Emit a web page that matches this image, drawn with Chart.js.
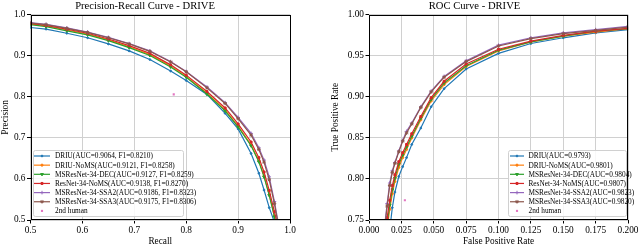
<!DOCTYPE html>
<html>
<head>
<meta charset="utf-8">
<script src="https://cdn.jsdelivr.net/npm/chart.js@4/dist/chart.umd.min.js"></script>
<style>
  html, body { margin: 0; padding: 0; background: #fff; }
  #wrap { position: relative; width: 640px; height: 247px; }
  canvas { position: absolute; top: 0; }
  #pr { left: 0; }
  #roc { left: 320px; }
</style>
</head>
<body>
<div id="wrap">
  <canvas id="pr" width="320" height="247"></canvas>
  <canvas id="roc" width="320" height="247"></canvas>
</div>
<script>
// Precision-Recall data
const prRecall = [0.50, 0.53, 0.57, 0.61, 0.65, 0.69, 0.73, 0.77, 0.80, 0.84, 0.875, 0.90, 0.925, 0.94, 0.95, 0.96, 0.97, 0.98];
const prDRIU      = [0.969, 0.965, 0.955, 0.944, 0.929, 0.912, 0.891, 0.863, 0.840, 0.806, 0.760, 0.722, 0.662, 0.614, 0.573, 0.530, 0.495, 0.440];
const prDRIUNoMS  = [0.978, 0.973, 0.963, 0.953, 0.939, 0.922, 0.903, 0.875, 0.850, 0.809, 0.768, 0.729, 0.683, 0.644, 0.607, 0.562, 0.510, 0.450];
const prMSDEC     = [0.976, 0.971, 0.961, 0.951, 0.937, 0.920, 0.901, 0.873, 0.848, 0.807, 0.766, 0.727, 0.681, 0.642, 0.605, 0.560, 0.508, 0.448];
const prResNoMS   = [0.979, 0.974, 0.965, 0.955, 0.941, 0.925, 0.906, 0.878, 0.853, 0.813, 0.773, 0.734, 0.690, 0.652, 0.617, 0.572, 0.520, 0.470];
const prMSSSA2    = [0.981, 0.977, 0.968, 0.958, 0.945, 0.930, 0.912, 0.886, 0.862, 0.824, 0.786, 0.750, 0.711, 0.676, 0.646, 0.605, 0.545, 0.475];
const prMSSSA3    = [0.980, 0.976, 0.967, 0.957, 0.944, 0.929, 0.911, 0.885, 0.861, 0.822, 0.784, 0.747, 0.707, 0.672, 0.641, 0.598, 0.540, 0.470];
const prHuman = { recall: 0.776, precision: 0.806 };
const prLabels = [
  'DRIU(AUC=0.9064, F1=0.8210)',
  'DRIU-NoMS(AUC=0.9121, F1=0.8258)',
  'MSResNet-34-DEC(AUC=0.9127, F1=0.8259)',
  'ResNet-34-NoMS(AUC=0.9138, F1=0.8270)',
  'MSResNet-34-SSA2(AUC=0.9186, F1=0.8323)',
  'MSResNet-34-SSA3(AUC=0.9175, F1=0.8306)'
];

// ROC data
const rocFpr = [0.012, 0.014, 0.016, 0.018, 0.020, 0.023, 0.026, 0.029, 0.033, 0.040, 0.048, 0.058, 0.075, 0.100, 0.125, 0.150, 0.175, 0.200];
const rocDRIU     = [0.680, 0.710, 0.738, 0.765, 0.784, 0.803, 0.815, 0.826, 0.842, 0.862, 0.888, 0.910, 0.934, 0.953, 0.965, 0.972, 0.978, 0.982];
const rocDRIUNoMS = [0.712, 0.740, 0.763, 0.782, 0.797, 0.814, 0.826, 0.836, 0.850, 0.872, 0.895, 0.915, 0.937, 0.956, 0.967, 0.974, 0.979, 0.983];
const rocMSDEC    = [0.718, 0.745, 0.768, 0.787, 0.801, 0.818, 0.829, 0.839, 0.852, 0.874, 0.897, 0.917, 0.938, 0.957, 0.967, 0.974, 0.980, 0.983];
const rocResNoMS  = [0.728, 0.753, 0.774, 0.792, 0.805, 0.821, 0.832, 0.842, 0.855, 0.876, 0.899, 0.919, 0.940, 0.958, 0.968, 0.975, 0.980, 0.9834];
const rocMSSSA2   = [0.742, 0.770, 0.795, 0.810, 0.820, 0.834, 0.847, 0.858, 0.868, 0.888, 0.907, 0.925, 0.944, 0.963, 0.972, 0.978, 0.982, 0.986];
const rocMSSSA3   = [0.738, 0.767, 0.792, 0.808, 0.819, 0.833, 0.846, 0.856, 0.867, 0.887, 0.906, 0.924, 0.943, 0.962, 0.971, 0.977, 0.981, 0.985];
const rocHuman = { fpr: 0.0277, tpr: 0.774 };
const rocLabels = [
  'DRIU(AUC=0.9793)',
  'DRIU-NoMS(AUC=0.9801)',
  'MSResNet-34-DEC(AUC=0.9804)',
  'ResNet-34-NoMS(AUC=0.9807)',
  'MSResNet-34-SSA2(AUC=0.9823)',
  'MSResNet-34-SSA3(AUC=0.9820)'
];

const colors = ['#1f77b4', '#ff7f0e', '#2ca02c', '#d62728', '#9467bd', '#8c564b'];
const markers = [
  { style: 'circle', radius: 0.9, rotation: 0 },
  { style: 'circle', radius: 1.1, rotation: 0 },
  { style: 'triangle', radius: 1.6, rotation: 180 },
  { style: 'rect', radius: 1.4, rotation: 0 },
  { style: 'cross', radius: 1.8, rotation: 0 },
  { style: 'star', radius: 1.8, rotation: 0 }
];
const humanColor = '#e377c2';
const FONT = '"Liberation Serif", "DejaVu Serif", serif';

function toPoints(xs, ys) {
  return xs.map((x, i) => ({ x: x, y: ys[i] }));
}

function buildDatasets(xs, seriesList, labels, human) {
  const sets = seriesList.map((ys, i) => ({
    label: labels[i],
    data: toPoints(xs, ys),
    borderColor: colors[i],
    backgroundColor: colors[i],
    borderWidth: 1.2,
    pointStyle: markers[i].style,
    pointRadius: markers[i].radius,
    pointRotation: markers[i].rotation,
    pointBorderWidth: 1,
    pointBorderColor: colors[i],
    pointBackgroundColor: colors[i],
    tension: 0,
    order: seriesList.length - i + 1
  }));
  sets.push({
    label: '2nd human',
    data: [human],
    showLine: false,
    borderColor: humanColor,
    backgroundColor: humanColor,
    pointStyle: 'rect',
    pointRadius: 1.5,
    pointBorderWidth: 0,
    pointBorderColor: humanColor,
    pointBackgroundColor: humanColor,
    order: 0
  });
  return sets;
}

// black frame round the plot area
const frame = {
  id: 'frame',
  afterDatasetsDraw(chart) {
    const a = chart.chartArea;
    const ctx = chart.ctx;
    ctx.save();
    ctx.strokeStyle = '#000';
    ctx.lineWidth = 1;
    ctx.strokeRect(Math.round(a.left) + 0.5, Math.round(a.top) + 0.5,
                   Math.round(a.right - a.left) - 1, Math.round(a.bottom - a.top) - 1);
    ctx.restore();
  }
};

// legend drawn inside the plot, like matplotlib
const insideLegend = {
  id: 'insideLegend',
  afterDraw(chart, args, o) {
    const ctx = chart.ctx;
    ctx.save();
    ctx.fillStyle = 'rgba(255,255,255,0.85)';
    ctx.strokeStyle = '#d0d0d0';
    ctx.lineWidth = 1;
    ctx.beginPath();
    ctx.roundRect(o.x + 0.5, o.y + 0.5, o.w, o.h, 2);
    ctx.fill();
    ctx.stroke();
    ctx.font = '7.3px ' + FONT;
    ctx.textBaseline = 'middle';
    chart.data.datasets.forEach((ds, i) => {
      const y = o.firstRow + i * o.row;
      if (ds.showLine !== false) {
        ctx.strokeStyle = ds.borderColor;
        ctx.lineWidth = 1.2;
        ctx.beginPath();
        ctx.moveTo(o.lineX0, y);
        ctx.lineTo(o.lineX1, y);
        ctx.stroke();
      }
      ctx.fillStyle = ds.pointBackgroundColor;
      ctx.strokeStyle = ds.pointBorderColor;
      ctx.lineWidth = ds.pointBorderWidth;
      Chart.helpers.drawPoint(ctx, {
        pointStyle: ds.pointStyle,
        radius: ds.pointRadius,
        rotation: ds.pointRotation || 0,
        borderWidth: ds.pointBorderWidth
      }, (o.lineX0 + o.lineX1) / 2, y);
      ctx.fillStyle = '#000';
      ctx.fillText(ds.label, o.textX, y + 0.5);
    });
    ctx.restore();
  }
};

function axis(min, max, step, digits, title, fit, titlePad) {
  return {
    type: 'linear',
    min: min,
    max: max,
    ticks: {
      stepSize: step,
      color: '#000',
      padding: 1.5,
      font: { family: FONT, size: 9.3 },
      callback: v => Number(v).toFixed(digits)
    },
    grid: { color: '#d0d0d0', lineWidth: 1, tickColor: '#000', tickLength: 3.5 },
    border: { display: false },
    title: {
      display: true,
      text: title,
      color: '#000',
      font: { family: FONT, size: 9.3, lineHeight: 1 },
      padding: titlePad
    },
    afterFit: fit
  };
}

function makeChart(id, datasets, xa, ya, titleText, padRight, legendBox) {
  return new Chart(document.getElementById(id), {
    type: 'line',
    data: { datasets: datasets },
    options: {
      responsive: false,
      animation: false,
      layout: { padding: { left: 0, right: padRight, top: 0, bottom: 0 } },
      plugins: {
        legend: { display: false },
        tooltip: { enabled: false },
        title: {
          display: true,
          text: titleText,
          color: '#000',
          font: { family: FONT, size: 10.6, weight: 'normal', lineHeight: 1 },
          padding: { top: 0.5, bottom: 3.7 }
        },
        insideLegend: legendBox
      },
      scales: { x: xa, y: ya }
    },
    plugins: [frame, insideLegend]
  });
}

makeChart('pr',
  buildDatasets(prRecall, [prDRIU, prDRIUNoMS, prMSDEC, prResNoMS, prMSSSA2, prMSSSA3], prLabels,
                { x: prHuman.recall, y: prHuman.precision }),
  axis(0.5, 1.0, 0.1, 1, 'Recall', s => { s.height = 27; }, { top: 0, bottom: 0.5 }),
  axis(0.5, 1.0, 0.1, 1, 'Precision', s => { s.width = 30.5; }, { top: 0.5, bottom: 0 }),
  'Precision-Recall Curve - DRIVE', 30,
  { x: 33, y: 150, w: 150, h: 66, firstRow: 156, row: 9.15, lineX0: 34, lineX1: 50, textX: 55 });

makeChart('roc',
  buildDatasets(rocFpr, [rocDRIU, rocDRIUNoMS, rocMSDEC, rocResNoMS, rocMSSSA2, rocMSSSA3], rocLabels,
                { x: rocHuman.fpr, y: rocHuman.tpr }),
  axis(0, 0.2, 0.025, 3, 'False Positive Rate', s => { s.height = 27; }, { top: 0, bottom: 0.5 }),
  axis(0.75, 1.0, 0.05, 2, 'True Positive Rate', s => { s.width = 49; }, { top: 11, bottom: 0 }),
  'ROC Curve - DRIVE', 11,
  { x: 188, y: 150, w: 118, h: 66, firstRow: 156, row: 9.15, lineX0: 190, lineX1: 204, textX: 208.5 });
</script>
</body>
</html>
